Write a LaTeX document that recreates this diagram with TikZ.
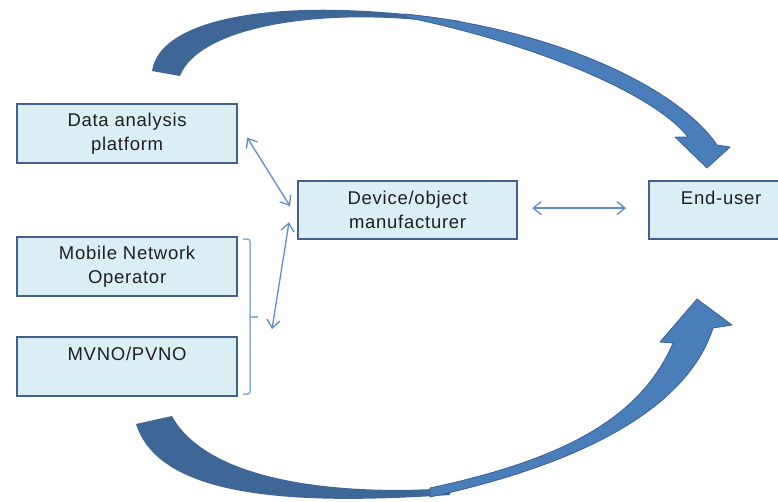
\documentclass[tikz,border=0pt]{standalone}
\usepackage{fontspec}
\setmainfont{Liberation Sans}
\usetikzlibrary{arrows.meta,calc}
\definecolor{boxfill}{HTML}{DBEEF4}
\definecolor{boxline}{HTML}{41618F}
\definecolor{linkblue}{HTML}{5F8CC6}
\definecolor{brkblue}{HTML}{8DAED6}
\definecolor{darkband}{HTML}{3E6696}
\definecolor{lightband}{HTML}{4A7EBB}
\definecolor{bandline}{HTML}{3A6092}
\definecolor{txt}{HTML}{1F1F1F}
\begin{document}
\begin{tikzpicture}[x=1pt,y=-1pt,
  box/.style={draw=boxline, line width=2.2pt, fill=boxfill, minimum width=220pt,
    minimum height=59pt, anchor=north west, align=center, inner sep=0pt, text=txt,
    font=\fontsize{18.5}{24.5}\selectfont\addfontfeature{LetterSpace=4}},
  link/.style={draw=linkblue, line width=1.3pt,
    {Straight Barb[length=8pt,width=13pt]}-{Straight Barb[length=8pt,width=13pt]}},
  bracket/.style={draw=brkblue, line width=1.5pt},
  backband/.style={fill=darkband},
  frontband/.style={fill=lightband, draw=bandline, line width=0.8pt, line join=round}]
\useasboundingbox (0,0) rectangle (778,501);
\clip (0,0) rectangle (778,501);

% big curved arrow, top
\fill[backband] (152,71) .. controls (160,15) and (290,-5) .. (460,21)
  -- (460,25) .. controls (330,5) and (200,25) .. (180,76) -- cycle;
\filldraw[frontband] (405,14) .. controls (560,30) and (680,90) .. (717,145)
  -- (730,147) -- (707,168) -- (675,137) -- (688,137)
  .. controls (655,95) and (540,45) .. (405,17) -- cycle;

% big curved arrow, bottom
\fill[backband] (136,424) .. controls (160,500) and (300,505) .. (450,495)
  -- (450,488) .. controls (350,495) and (210,485) .. (172,416) -- cycle;
\filldraw[frontband] (430,488) .. controls (560,460) and (640,420) .. (673,343)
  -- (660,342) -- (697,299) -- (732,325) -- (713,328)
  .. controls (690,400) and (600,460) .. (430,497) -- cycle;

% boxes
\node[box] (data) at (16,103) {Data analysis\\platform};
\node[box] (mno) at (16,236) {Mobile Network\\Operator};
\node[box] (mvno) at (16,336) {MVNO/PVNO\\\phantom{a}};
\node[box, minimum width=219pt, minimum height=58pt] (device) at (297,180) {Device/object\\manufacturer};
\node[box, minimum width=144pt, minimum height=58pt] (enduser) at (648,180) {End-user\\\phantom{a}};

% bracket
\coordinate (brk) at (258,317);
\draw[bracket, rounded corners=2.5pt] (243,239) -- (250,239) -- (250,394) -- (243,394);
\draw[bracket] (250,317) -- (brk);

% connectors
\draw[link] ($(data.east)+(9,4)$) -- ($(device.west)+(-7,-4)$);
\draw[link] ($(brk)+(14,12)$) -- ($(device.south west)+(-8,-18)$);
\draw[link] ($(device.east)+(14,-2)$) -- ($(enduser.west)+(-22,-2)$);
\end{tikzpicture}
\end{document}
